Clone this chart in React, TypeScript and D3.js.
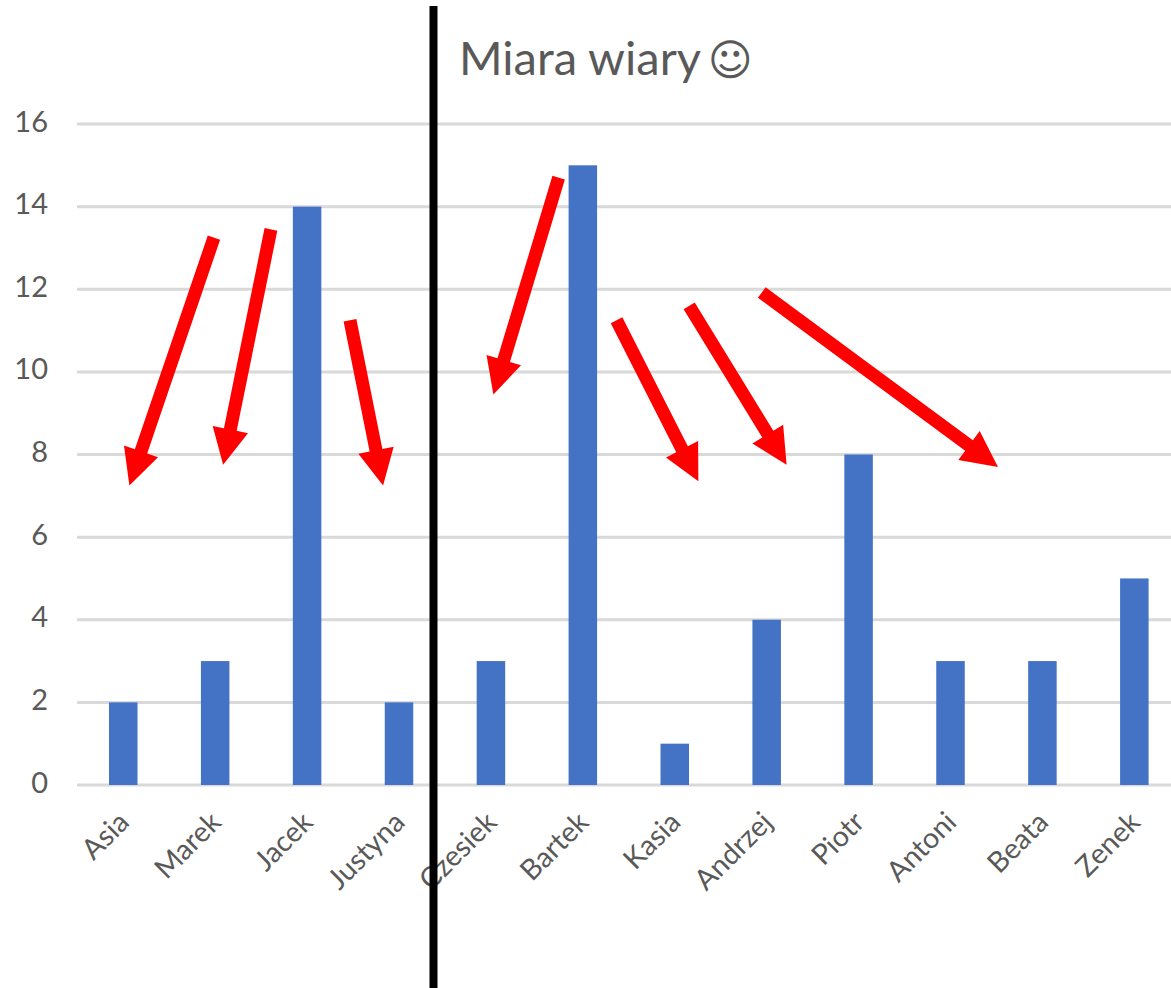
import React from "react";
import * as d3 from "d3";

const categories = ["Asia","Marek","Jacek","Justyna","Czesiek","Bartek","Kasia","Andrzej","Piotr","Antoni","Beata","Zenek"];
const values = [2,3,14,2,3,15,1,4,8,3,3,5];
const yTicks = [0,2,4,6,8,10,12,14,16];
const titleText = "Miara wiary";
const smiley = "\u263A";
// Annotation arrows: [category position, value] for start and tip
const arrowStarts: [number, number][] = [[1.49,13.25],[2.11,13.45],[2.97,11.25],[5.24,14.7],[5.87,11.25],[6.66,11.6],[7.45,11.92]];
const arrowTips: [number, number][] = [[0.57,7.25],[1.59,7.75],[3.33,7.25],[4.53,9.45],[6.76,7.35],[7.72,7.75],[10.02,7.7]];

const W = 1171, H = 988;
const font = "Lato, Carlito, 'Open Sans', sans-serif";

export default function App() {
  const x = d3.scaleBand<string>().domain(categories).range([77.3, 1180.3]).paddingInner(0);
  const bw = 28.5;
  const y = d3.scaleLinear().domain([0, 16]).range([785, 124]);
  const pos = d3.scaleLinear().domain([0, 12]).range([77, 1180]);
  const arrowPath = (s: [number, number], t: [number, number]) => {
    const x0 = pos(s[0]), y0 = y(s[1]), x1 = pos(t[0]), y1 = y(t[1]);
    const a = Math.atan2(y1 - y0, x1 - x0);
    const len = Math.hypot(x1 - x0, y1 - y0);
    const ux = Math.cos(a), uy = Math.sin(a), nx = -uy, ny = ux;
    const hl = 36, hw = 18, sw = 6.5;
    const b = len - hl;
    const p = (l: number, o: number) => [x0 + ux * l + nx * o, y0 + uy * l + ny * o] as [number, number];
    return d3.line()([p(0,-sw),p(b,-sw),p(b,-hw),p(len,0),p(b,hw),p(b,sw),p(0,sw)]) + "Z";
  };
  return (
    <svg width={W} height={H} viewBox={`0 0 ${W} ${H}`} style={{position:"absolute",left:0,top:0,background:"#fff"}} fontFamily={font}>
      {yTicks.map(t => (
        <g key={t}>
          <line x1={77} x2={W} y1={y(t)} y2={y(t)} stroke="#d9d9d9" strokeWidth={3}/>
          <text x={48} y={y(t)+7.5} textAnchor="end" fontSize={29} fill="#595959">{t}</text>
        </g>
      ))}
      {categories.map((c,i) => (
        <rect key={c} x={x(c)!+x.bandwidth()/2-bw/2} y={y(values[i])} width={bw} height={y(0)-y(values[i])} fill="#4472c4"/>
      ))}
      {categories.map(c => {
        const cx = x(c)!+x.bandwidth()/2+7.5;
        return <text key={c} transform={`translate(${cx},824) rotate(-45)`} textAnchor="end" fontSize={28.5} fill="#595959">{c}</text>;
      })}
      <text x={459} y={75} fontSize={47} fill="#595959">{titleText} <tspan dx={-4} fontFamily="'DejaVu Sans'" fontSize={43}>{smiley}</tspan></text>
      <line x1={433.5} x2={433.5} y1={6} y2={H} stroke="#000" strokeWidth={8}/>
      {arrowStarts.map((s,i) => <path key={i} d={arrowPath(s, arrowTips[i])} fill="#ff0000"/>)}
    </svg>
  );
}
